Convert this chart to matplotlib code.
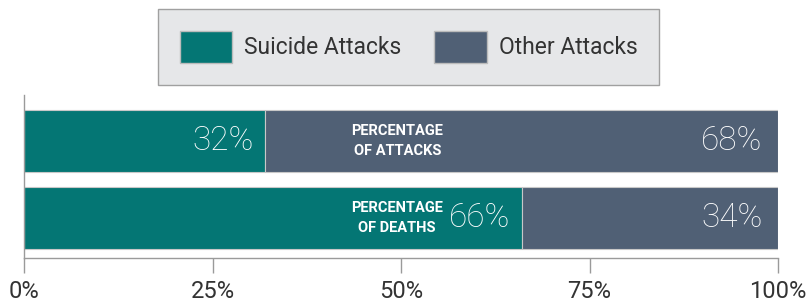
import matplotlib
matplotlib.use("Agg")
import matplotlib.pyplot as plt
from matplotlib.patches import Patch

rows = ["PERCENTAGE\nOF ATTACKS", "PERCENTAGE\nOF DEATHS"]
suicide = [32, 66]
other = [68, 34]
ticks = [0, 25, 50, 75, 100]
tick_labels = ["0%", "25%", "50%", "75%", "100%"]

teal = "#047674"
slate = "#506075"
grey = "#9a9a9a"

plt.rcParams["font.family"] = ["Roboto", "DejaVu Sans"]

fig = plt.figure(figsize=(8.08, 3.04), dpi=100)
ax = fig.add_axes([24 / 808, 1 - 258 / 304, 754 / 808, 163 / 304])

y = list(range(len(rows)))
ax.barh(y, suicide, height=0.805, color=teal, edgecolor="#c8c8c8", linewidth=0.8)
ax.barh(y, other, left=suicide, height=0.805, color=slate, edgecolor="#c8c8c8", linewidth=0.8)

for i in y:
    ax.annotate(f"{suicide[i]}%", (suicide[i], i), xytext=(-8, 0), textcoords="offset points",
                ha="right", va="center", color="white", fontsize=24, fontweight="light")
    ax.annotate(f"{other[i]}%", (100, i), xytext=(-11, 0), textcoords="offset points",
                ha="right", va="center", color="white", fontsize=24, fontweight="light")
    ax.text(49.5, i, rows[i], ha="center", va="center", color="white",
            fontsize=10.5, fontweight="bold", linespacing=1.5)

ax.set_xlim(0, 100)
ax.set_ylim(1.519, -0.597)
ax.set_yticks([])
ax.set_xticks(ticks)
ax.set_xticklabels(tick_labels)
ax.tick_params(axis="x", length=11, width=1, color=grey, pad=5, labelsize=17, labelcolor="#333333")
for s in ["top", "right"]:
    ax.spines[s].set_visible(False)
for s in ["left", "bottom"]:
    ax.spines[s].set_color(grey)
    ax.spines[s].set_linewidth(1)

handles = [Patch(facecolor=teal, edgecolor="#bbbbbb", label="Suicide Attacks"),
           Patch(facecolor=slate, edgecolor="#bbbbbb", label="Other Attacks")]
leg = fig.legend(handles=handles, loc="center", bbox_to_anchor=(408.5 / 808, 1 - 47 / 304),
                 ncol=2, fontsize=16.5, handlelength=2.3, handleheight=1.8,
                 handletextpad=0.5, columnspacing=1.45, borderpad=0.95,
                 fancybox=False, frameon=True, labelcolor="#333333")
fr = leg.get_frame()
fr.set_facecolor("#e6e7e9")
fr.set_edgecolor("#a0a0a0")
fr.set_linewidth(1.0)
fr.set_alpha(1)

fig.savefig("out.png", dpi=100)
